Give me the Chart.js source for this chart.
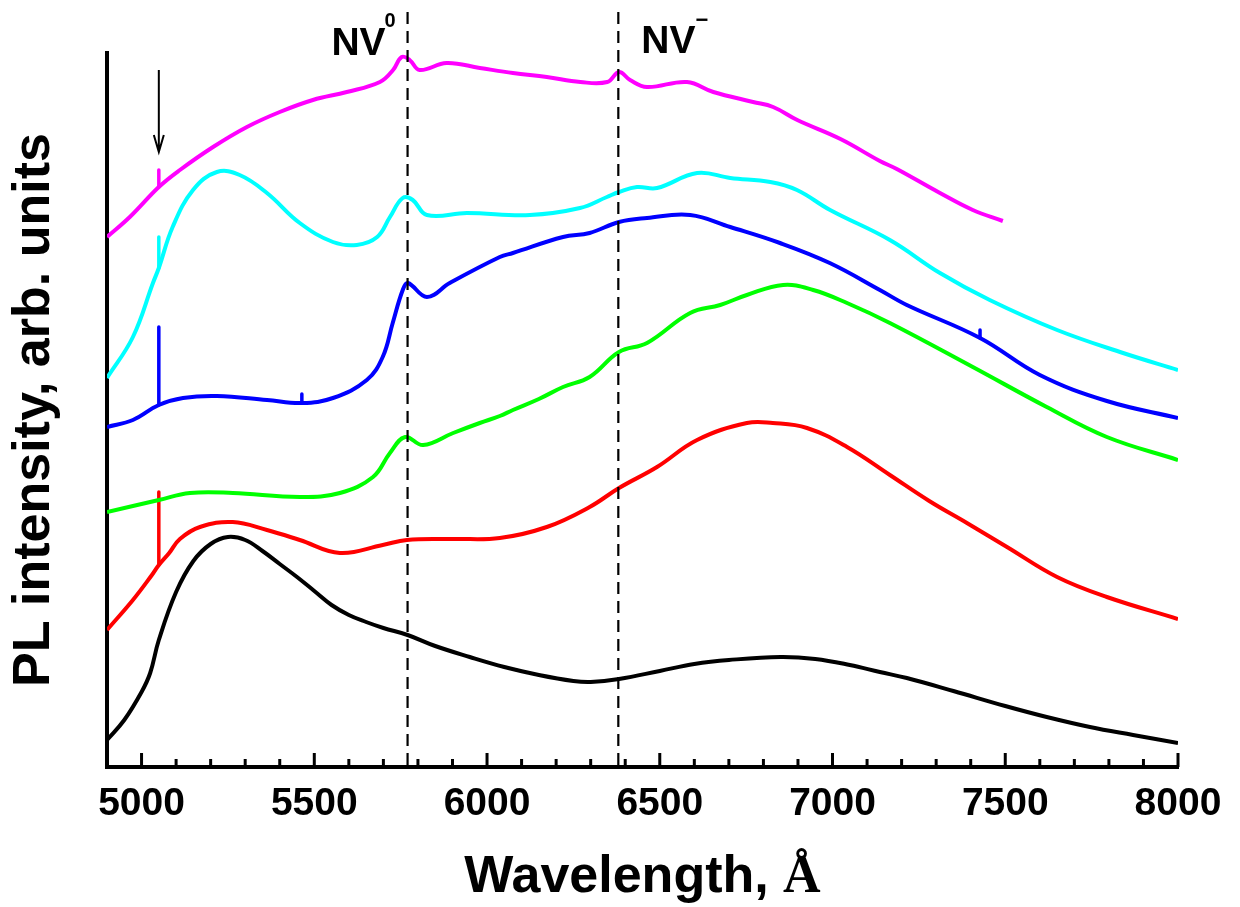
<!DOCTYPE html>
<html>
<head>
<meta charset="utf-8">
<script src="https://cdn.jsdelivr.net/npm/chart.js@4.4.1/dist/chart.umd.min.js"></script>
<style>
  html, body { margin: 0; padding: 0; background: #fff; }
</style>
</head>
<body>
<canvas id="plChart" width="1240" height="907"></canvas>
<script>
// wavelengths (Å) and PL intensity (arb. units, vertically offset spectra)
const blackWl = [4900, 4950, 5000, 5025, 5050, 5100, 5150, 5200, 5250, 5300, 5350, 5400, 5450, 5500, 5550, 5600, 5650, 5700, 5770, 5850, 5950, 6050, 6150, 6250, 6300, 6382, 6500, 6600, 6700, 6850, 6950, 7050, 7137, 7215, 7350, 7500, 7620, 7745, 7870, 8000];
const blackI  = [27, 47, 75, 94, 127, 175, 206, 223, 230, 227, 216, 203, 190, 176, 162, 152, 145, 139, 132, 121, 110, 100, 92, 86, 85, 88, 96, 103, 107, 110, 108, 102, 95, 89, 76, 61, 50, 40, 32, 24];

const redWl = [4900, 4975, 5030, 5050, 5080, 5111, 5169, 5264, 5363, 5458, 5574, 5698, 5768, 5900, 6037, 6173, 6297, 6382, 6492, 6608, 6752, 6827, 6926, 7042, 7166, 7280, 7389, 7505, 7650, 7794, 8000];
const redI  = [137, 167, 192, 202, 214, 228, 240, 245, 237, 227, 214, 222, 227, 228, 229, 240, 260, 279, 300, 327, 344, 344, 339, 320, 292, 266, 244, 220, 190, 170, 148];

const greenWl = [4900, 5050, 5140, 5264, 5458, 5574, 5670, 5719, 5763, 5815, 5902, 5979, 6037, 6075, 6150, 6220, 6297, 6382, 6463, 6588, 6675, 6752, 6857, 6944, 7042, 7166, 7406, 7620, 7794, 8000];
const greenI  = [255, 267, 274, 274, 270, 274, 290, 314, 330, 322, 334, 344, 351, 357, 368, 380, 390, 415, 424, 454, 462, 472, 482, 477, 464, 444, 400, 360, 330, 307];

const blueWl = [4900, 4975, 5050, 5120, 5218, 5363, 5464, 5554, 5652, 5698, 5727, 5756, 5771, 5826, 5892, 6037, 6075, 6220, 6297, 6382, 6463, 6588, 6704, 6848, 6992, 7137, 7215, 7427, 7600, 7794, 8000];
const blueI  = [340, 347, 362, 369, 371, 367, 364, 369, 387, 410, 444, 477, 484, 470, 484, 510, 514, 530, 534, 545, 549, 552, 540, 524, 504, 477, 462, 429, 392, 366, 349];

const cyanWl = [4900, 4975, 5033, 5050, 5090, 5149, 5218, 5284, 5363, 5458, 5554, 5623, 5682, 5719, 5756, 5785, 5826, 5942, 6124, 6269, 6347, 6382, 6434, 6492, 6608, 6704, 6820, 6897, 6993, 7166, 7311, 7455, 7650, 7841, 8000];
const cyanI  = [389, 430, 484, 499, 540, 577, 595, 592, 574, 544, 525, 522, 530, 550, 569, 567, 552, 554, 552, 559, 570, 575, 580, 579, 594, 589, 585, 577, 557, 527, 494, 467, 437, 414, 397];

const magentaWl = [4900, 4966, 5050, 5111, 5207, 5305, 5400, 5496, 5594, 5690, 5728, 5753, 5776, 5805, 5883, 5979, 6075, 6173, 6270, 6348, 6382, 6414, 6463, 6579, 6655, 6770, 6828, 6898, 7023, 7137, 7186, 7311, 7406, 7493];
const magentaI  = [530, 550, 580, 597, 620, 640, 655, 667, 675, 685, 697, 710, 707, 697, 704, 699, 694, 690, 685, 685, 695, 687, 680, 685, 675, 665, 660, 647, 628, 606, 598, 574, 557, 546];

// narrow spikes (plasma / laser lines) on top of the spectra
const redSpikeWl = [5050];             const redSpikeBase = [202];           const redSpikeTop = [275];
const blueSpikeWl = [5050, 5464, 7427]; const blueSpikeBase = [362, 364, 429]; const blueSpikeTop = [440, 373, 437];
const cyanSpikeWl = [5050];            const cyanSpikeBase = [499];          const cyanSpikeTop = [530];
const magentaSpikeWl = [5050];         const magentaSpikeBase = [580];       const magentaSpikeTop = [597];

const xTickLabels = [5000, 5500, 6000, 6500, 7000, 7500, 8000];
const nvLines = [5770, 6380];   // NV0 and NV- zero-phonon lines
const arrowAt = 5050;

const FONT = '"Liberation Sans", Arial, sans-serif';

function toPoints(wl, vals) {
  return wl.map((w, i) => ({ x: w, y: vals[i] }));
}

function spikePoints(wl, base, top) {
  const pts = [];
  wl.forEach((w, i) => {
    pts.push({ x: w, y: base[i] }, { x: w, y: top[i] }, { x: w, y: null });
  });
  return pts;
}

const series = [
  { wl: blackWl,   y: blackI,   color: '#000000' },
  { wl: redWl,     y: redI,     color: '#ff0000' },
  { wl: greenWl,   y: greenI,   color: '#00ff00' },
  { wl: blueWl,    y: blueI,    color: '#0000ff' },
  { wl: cyanWl,    y: cyanI,    color: '#00ffff' },
  { wl: magentaWl, y: magentaI, color: '#ff00ff' }
];

const spikes = [
  { wl: redSpikeWl,     base: redSpikeBase,     top: redSpikeTop,     color: '#ff0000' },
  { wl: blueSpikeWl,    base: blueSpikeBase,    top: blueSpikeTop,    color: '#0000ff' },
  { wl: cyanSpikeWl,    base: cyanSpikeBase,    top: cyanSpikeTop,    color: '#00ffff' },
  { wl: magentaSpikeWl, base: magentaSpikeBase, top: magentaSpikeTop, color: '#ff00ff' }
];

// ticks, dashed lines, labels, arrow and axis titles
const decorations = {
  id: 'decorations',
  afterDatasetsDraw(chart) {
    const { ctx, chartArea, scales: { x, y } } = chart;
    ctx.save();
    ctx.strokeStyle = '#000';
    ctx.fillStyle = '#000';

    // inward ticks on the wavelength axis
    ctx.lineWidth = 3;
    for (let w = 5000; w <= 8000; w += 100) {
      const px = x.getPixelForValue(w);
      const len = w % 500 === 0 ? 14 : 8;
      ctx.beginPath();
      ctx.moveTo(px, chartArea.bottom);
      ctx.lineTo(px, chartArea.bottom - len);
      ctx.stroke();
    }

    // dashed NV lines
    ctx.setLineDash([12, 7]);
    ctx.lineWidth = 2.2;
    nvLines.forEach(w => {
      const px = x.getPixelForValue(w);
      ctx.beginPath();
      ctx.moveTo(px, 12);
      ctx.lineTo(px, chartArea.bottom);
      ctx.stroke();
    });
    ctx.setLineDash([]);

    // NV labels
    const nv0 = x.getPixelForValue(nvLines[0]);
    const nvm = x.getPixelForValue(nvLines[1]);
    ctx.font = 'bold 39px ' + FONT;
    ctx.textBaseline = 'alphabetic';
    ctx.textAlign = 'right';
    ctx.fillText('NV', nv0 - 22, 55);
    ctx.textAlign = 'left';
    ctx.font = 'bold 20px ' + FONT;
    ctx.fillText('0', nv0 - 23, 27);
    ctx.font = 'bold 39px ' + FONT;
    ctx.fillText('NV', nvm + 23, 53);
    const nvW = ctx.measureText('NV').width;
    ctx.font = 'bold 22px ' + FONT;
    ctx.fillText('\u2212', nvm + 23 + nvW, 27);

    // arrow
    const ax = x.getPixelForValue(arrowAt);
    const top = y.getPixelForValue(697);
    const tip = y.getPixelForValue(615);
    ctx.lineWidth = 2;
    ctx.beginPath();
    ctx.moveTo(ax, top);
    ctx.lineTo(ax, tip);
    ctx.moveTo(ax - 5, tip - 17);
    ctx.lineTo(ax, tip);
    ctx.lineTo(ax + 5, tip - 17);
    ctx.stroke();

    // y title
    ctx.save();
    ctx.translate(35, 410);
    ctx.rotate(-Math.PI / 2);
    ctx.font = 'bold 52px ' + FONT;
    ctx.textAlign = 'center';
    ctx.textBaseline = 'middle';
    ctx.fillText('PL intensity, arb. units', 0, 0);
    ctx.restore();

    // x title, angstrom sign in serif as in the original
    const part1 = 'Wavelength, ';
    const part2 = '\u00c5';
    ctx.font = 'bold 52px ' + FONT;
    const w1 = ctx.measureText(part1).width;
    ctx.font = 'bold 52px "Liberation Serif", "Times New Roman", serif';
    const w2 = ctx.measureText(part2).width;
    const startX = (chartArea.left + chartArea.right) / 2 - (w1 + w2) / 2;
    ctx.textAlign = 'left';
    ctx.textBaseline = 'alphabetic';
    ctx.font = 'bold 52px ' + FONT;
    ctx.fillText(part1, startX, 892);
    ctx.font = 'bold 52px "Liberation Serif", "Times New Roman", serif';
    ctx.fillText(part2, startX + w1, 892);

    ctx.restore();
  }
};

const datasets = series.map(s => ({
  data: toPoints(s.wl, s.y),
  borderColor: s.color,
  borderWidth: 4,
  pointRadius: 0,
  fill: false,
  tension: 0.4
})).concat(spikes.map(s => ({
  data: spikePoints(s.wl, s.base, s.top),
  borderColor: s.color,
  borderWidth: 3.5,
  borderCapStyle: 'round',
  pointRadius: 0,
  fill: false,
  tension: 0,
  spanGaps: false
})));

new Chart(document.getElementById('plChart'), {
  type: 'line',
  data: { datasets },
  options: {
    responsive: false,
    animation: false,
    layout: { padding: { top: 53, right: 62, left: 0, bottom: 0 } },
    plugins: {
      legend: { display: false },
      tooltip: { enabled: false }
    },
    scales: {
      x: {
        type: 'linear',
        min: 4900,
        max: 8000,
        grid: { display: false, drawTicks: false },
        border: { display: true, color: '#000', width: 4 },
        afterBuildTicks: s => { s.ticks = xTickLabels.map(v => ({ value: v })); },
        afterFit: s => { s.height = 140; },
        ticks: {
          font: { family: FONT, size: 39, weight: 'bold' },
          color: '#000',
          padding: 14,
          maxRotation: 0,
          autoSkip: false,
          callback: v => String(v)
        }
      },
      y: {
        type: 'linear',
        min: 0,
        max: 714,
        grid: { display: false, drawTicks: false },
        border: { display: true, color: '#000', width: 4 },
        ticks: { display: false },
        afterFit: s => { s.width = 107; }
      }
    }
  },
  plugins: [decorations]
});
</script>
</body>
</html>
